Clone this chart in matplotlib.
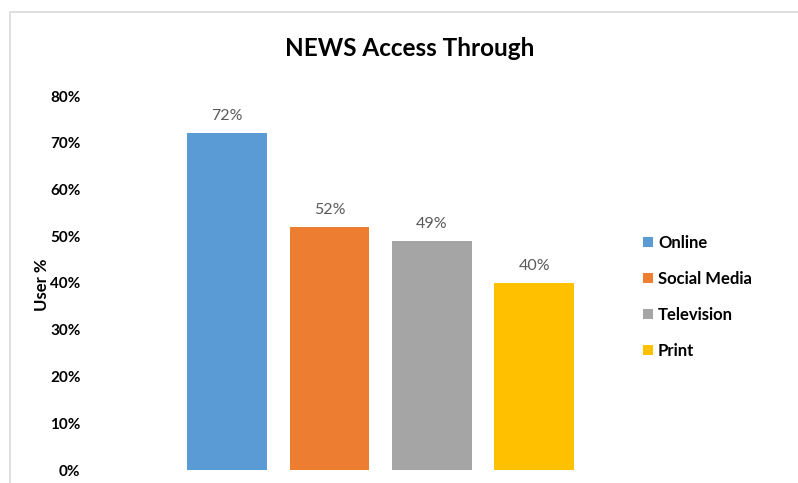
import matplotlib.pyplot as plt
from matplotlib.patches import Rectangle
from matplotlib.ticker import PercentFormatter

# News access channels and share of users
channels = ["Online", "Social Media", "Television", "Print"]
user_share = [72, 52, 49, 40]
colors = ["#5b9bd5", "#ed7d31", "#a5a5a5", "#ffc000"]
y_ticks = [0, 10, 20, 30, 40, 50, 60, 70, 80]

plt.rcParams["font.family"] = ["Lato", "DejaVu Sans"]

W, H = 798, 483
fig = plt.figure(figsize=(W / 100, H / 100), dpi=100)

# light chart-area frame running off the right and bottom edges
fig.patches.append(Rectangle((10 / W, -0.05), 1.0, 1 - 12 / H + 0.05,
                             transform=fig.transFigure, fill=False,
                             edgecolor="#d9d9d9", linewidth=1.2))

ax = fig.add_axes([100 / W, 13 / H, 500 / W, 374 / H])
x = range(len(channels))
bars = ax.bar(x, user_share, width=0.78, color=colors, label=channels)

for b, v in zip(bars, user_share):
    ax.text(b.get_x() + b.get_width() / 2, v + 2.2, f"{v}%",
            ha="center", va="bottom", fontsize=11.5, color="#595959")

ax.set_ylim(0, 80)
ax.set_xlim(-1.24, 3.64)
ax.set_yticks(y_ticks)
ax.yaxis.set_major_formatter(PercentFormatter(decimals=0))
ax.tick_params(axis="y", length=0, pad=14, labelsize=11)
for lbl in ax.get_yticklabels():
    lbl.set_fontweight("bold")
ax.set_xticks([])
for s in ax.spines.values():
    s.set_visible(False)

fig.text(42 / W, 1 - 285 / H, "User %", rotation=90, ha="center", va="center",
         fontsize=12, fontweight="bold")
fig.text(410 / W, 1 - 48 / H, "NEWS Access Through", ha="center", va="center",
         fontsize=17.5, fontweight="bold")

leg = fig.legend(handles=list(bars), labels=channels, loc="upper left",
                 bbox_to_anchor=(628 / W, 1 - 220 / H), frameon=False,
                 handlelength=0.6, handleheight=0.6, handletextpad=0.3,
                 labelspacing=1.2, fontsize=12)
for t in leg.get_texts():
    t.set_fontweight("bold")

fig.savefig("out.png", dpi=100)
